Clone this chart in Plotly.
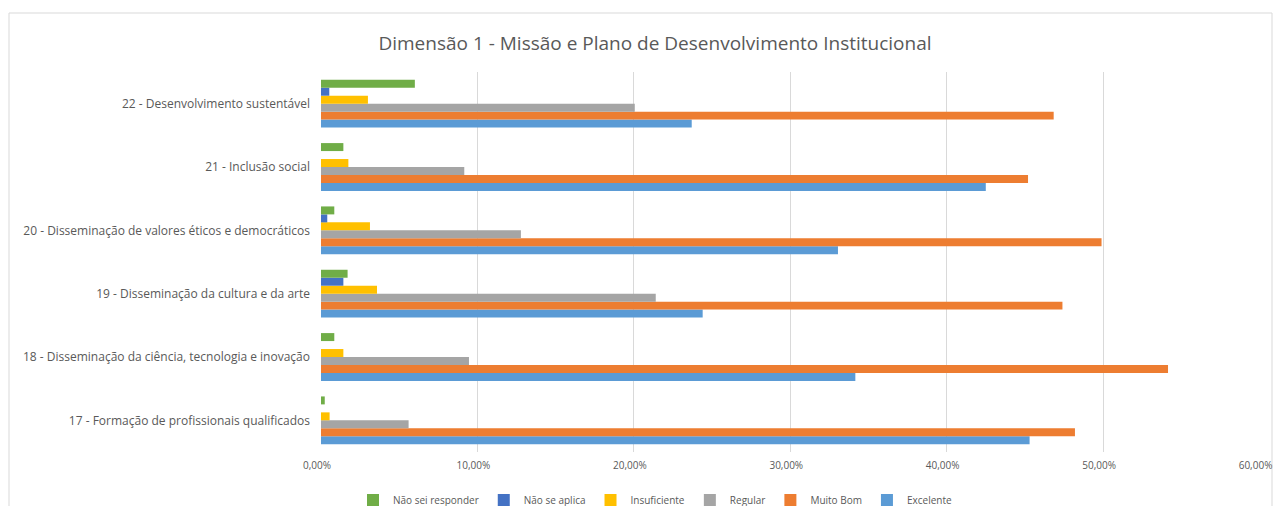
import plotly.graph_objects as go

categories = [
    "17 - Formação de profissionais qualificados",
    "18 - Disseminação da ciência, tecnologia e inovação",
    "19 - Disseminação da cultura e da arte",
    "20 - Disseminação de valores éticos e democráticos",
    "21 - Inclusão social",
    "22 - Desenvolvimento sustentável",
]

excelente = [0.453, 0.3416, 0.244, 0.3305, 0.425, 0.237]
muito_bom = [0.482, 0.5415, 0.474, 0.499, 0.452, 0.4684]
regular = [0.056, 0.0946, 0.214, 0.1278, 0.0916, 0.2006]
insuficiente = [0.0055, 0.0143, 0.0358, 0.0313, 0.0175, 0.030]
nao_se_aplica = [0.0, 0.0, 0.0143, 0.004, 0.0, 0.0053]
nao_sei = [0.0024, 0.0085, 0.017, 0.0085, 0.0143, 0.060]

x_ticks = [0, 0.1, 0.2, 0.3, 0.4, 0.5, 0.6]

series = [
    ("Excelente", excelente, "#5B9BD5"),
    ("Muito Bom", muito_bom, "#ED7D31"),
    ("Regular", regular, "#A5A5A5"),
    ("Insuficiente", insuficiente, "#FFC000"),
    ("Não se aplica", nao_se_aplica, "#4472C4"),
    ("Não sei responder", nao_sei, "#70AD47"),
]

fig = go.Figure()
for name, vals, color in series:
    fig.add_trace(go.Bar(
        y=categories, x=vals, name=name, orientation="h",
        marker=dict(color=color, line=dict(width=0)),
    ))

W, H = 1265, 498
L, T, PW, PH = 313, 64, 939, 380
B = T + PH

font_family = "Open Sans, Liberation Sans, sans-serif"
fig.update_layout(
    width=W, height=H,
    margin=dict(l=L, r=W - L - PW, t=T, b=H - B, autoexpand=False),
    paper_bgcolor="white", plot_bgcolor="white",
    separators=",.",
    barmode="group", bargap=0.245, bargroupgap=0,
    font=dict(family=font_family, color="#595959", size=11),
    title=dict(
        text="Dimensão 1 - Missão e Plano de Desenvolvimento Institucional",
        x=647 / W, xanchor="center", y=1 - 35 / H, yanchor="middle",
        xref="container", yref="container",
        font=dict(family=font_family, size=19, color="#595959"),
    ),
    xaxis=dict(
        range=[0, 0.6003], tickvals=x_ticks,
        tickformat=".2%",
        showgrid=True, gridcolor="#D9D9D9", gridwidth=1,
        zeroline=False, showline=False, ticks="",
        ticklabelstandoff=6, ticklabeloverflow="allow",
        ticklabelshift=-4,
        tickfont=dict(size=10, color="#595959"),
    ),
    yaxis=dict(
        showgrid=False, zeroline=False, showline=False, ticks="",
        ticklabelstandoff=10,
        tickfont=dict(size=12, color="#595959"),
    ),
    legend=dict(
        orientation="h", traceorder="reversed",
        xref="container", yref="container",
        x=647 / W, xanchor="center",
        y=1 - 492 / H, yanchor="middle",
        font=dict(size=10, color="#595959"),
        itemwidth=30,
    ),
    shapes=[dict(
        type="rect", xref="paper", yref="paper",
        x0=(1 - L) / PW, x1=(1264 - L) / PW,
        y0=(B - 510) / PH, y1=(B - 5) / PH,
        line=dict(color="#D9D9D9", width=1), fillcolor="rgba(0,0,0,0)",
        layer="below",
    )],
)

fig.write_html("out.html")
